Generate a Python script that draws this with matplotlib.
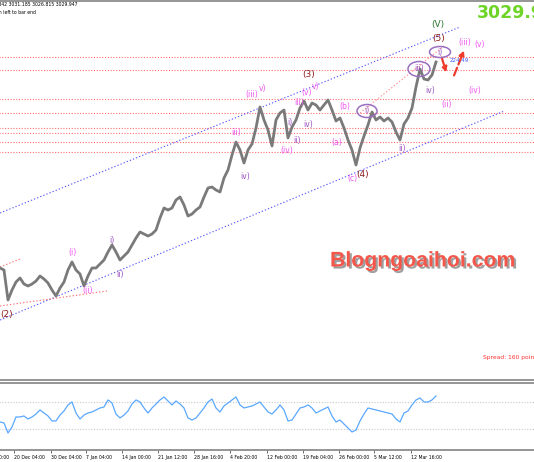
import numpy as np
import matplotlib
matplotlib.use('Agg')
import matplotlib.pyplot as plt
from matplotlib.patches import Ellipse
import matplotlib.patheffects as pe

# XAUUSD H4 - closes sampled about every 4 px of the original screenshot
price = [2618, 2614, 2554, 2574, 2590, 2598, 2586, 2582, 2586, 2592,
         2602, 2596, 2588, 2574, 2562, 2578, 2590, 2614, 2630, 2614,
         2606, 2582, 2602, 2618, 2618, 2626, 2634, 2650, 2664, 2650,
         2634, 2642, 2650, 2664, 2678, 2690, 2686, 2682, 2686, 2694,
         2718, 2738, 2734, 2738, 2754, 2760, 2744, 2722, 2726, 2734,
         2740, 2760, 2778, 2780, 2774, 2770, 2798, 2814, 2844, 2870,
         2854, 2828, 2854, 2866, 2898, 2940, 2914, 2894, 2862, 2914,
         2928, 2934, 2878, 2900, 2914, 2938, 2952, 2934, 2948, 2944,
         2934, 2944, 2954, 2934, 2912, 2918, 2898, 2874, 2854, 2824,
         2858, 2882, 2904, 2930, 2914, 2920, 2912, 2918, 2910, 2890,
         2874, 2906, 2918, 2938, 2980, 3016, 2996, 2994, 3004, 3030]

rsi = [40.4, 38.9, 24.1, 33.0, 47.8, 47.8, 49.3, 44.8, 47.8, 52.2,
       58.2, 53.7, 49.3, 41.9, 41.9, 50.7, 56.7, 65.6, 70.0, 53.7,
       44.8, 50.7, 53.7, 55.2, 58.2, 61.1, 62.6, 73.0, 68.5, 52.2,
       46.3, 50.7, 56.7, 67.0, 73.0, 70.0, 61.1, 53.7, 61.1, 67.0,
       73.0, 77.4, 71.5, 65.6, 71.5, 67.0, 61.1, 46.3, 43.3, 46.3,
       53.7, 61.1, 70.0, 74.4, 61.1, 55.2, 64.1, 68.5, 73.0, 77.4,
       65.6, 61.1, 62.6, 64.1, 67.0, 70.0, 62.6, 55.2, 52.2, 58.2,
       65.6, 58.2, 41.9, 43.3, 52.2, 61.1, 62.6, 65.6, 61.1, 53.7,
       56.7, 59.6, 62.6, 49.3, 40.4, 43.3, 37.4, 31.5, 25.6, 28.5,
       41.9, 52.2, 61.1, 59.6, 58.2, 56.7, 55.2, 53.7, 52.2, 44.8,
       40.4, 53.7, 56.7, 65.6, 73.0, 75.9, 70.0, 70.0, 73.0, 78.9]

tick_idx = [-5.5, 3.5, 12.75, 21.5, 30.5, 39.5, 48.5, 57.5, 66.75,
            75.75, 84.75, 93.5, 102.75]
tick_labels = ["12 Dec 20:00", "20 Dec 04:00", "30 Dec 04:00", "7 Jan 04:00",
               "14 Jan 00:00", "21 Jan 12:00", "28 Jan 16:00", "4 Feb 20:00",
               "12 Feb 00:00", "19 Feb 04:00", "26 Feb 00:00", "5 Mar 12:00",
               "12 Mar 16:00"]

# horizontal levels (red dotted)
levels = [3040, 3014, 2956, 2928, 2898, 2888, 2870, 2850]

# trend channel / helper lines: (idx list, price list)
upper_channel = ([0, 115], [2728, 3100])
lower_channel = ([0, 125.75], [2514, 2931])
red_short_1 = ([0, 5], [2620, 2636])
red_short_2 = ([0, 26.75], [2542, 2572])
pink_diag = ([90, 111], [2928, 3062])

# wave labels: text, idx, price, colour key
waves = [
    ("(2)", 1.75, 2526, "major"),
    ("(i)", 18, 2648, "mag"),
    ("(ii)", 22, 2572, "mag"),
    ("i)", 28, 2674, "pur"),
    ("ii)", 30, 2606, "pur"),
    ("iii)", 59, 2888, "mag"),
    ("iv)", 61.25, 2802, "pur"),
    ("(iii)", 63.0, 2966, "mag"),
    ("v)", 65.75, 2976, "mag"),
    ("(iv)", 71.75, 2854, "mag"),
    ("i)", 72.5, 2910, "pur"),
    ("ii)", 74.25, 2874, "pur"),
    ("iii)", 74.8, 2948, "mag"),
    ("(v)", 76.6, 2970, "mag"),
    ("v)", 79.0, 2982, "mag"),
    ("iv)", 77, 2904, "pur"),
    ("(3)", 77.25, 3004, "major"),
    ("(a)", 84.25, 2868, "mag"),
    ("(b)", 86.25, 2940, "mag"),
    ("(c)", 88, 2798, "mag"),
    ("(4)", 90.75, 2806, "major"),
    ("i)", 91.75, 2932, "pur"),
    ("ii)", 100.5, 2858, "pur"),
    ("iii)", 104.75, 3016, "pur"),
    ("iv)", 107.5, 2972, "pur"),
    ("(5)", 109.75, 3076, "major"),
    ("(V)", 109.5, 3104, "green"),
    ("i)", 110, 3050, "pur"),
    ("(iii)", 116.25, 3070, "mag"),
    ("(v)", 120, 3064, "mag"),
    ("(iv)", 118.75, 2974, "mag"),
    ("(ii)", 111.75, 2944, "mag"),
]
colors = {"major": "#8b1c1c", "mag": "#ee55ee", "pur": "#9a4fc0", "green": "#2d7a2d"}

# ellipses around some labels: idx, price, width, height
circles = [(91.75, 2932, 5.0, 26), (104.75, 3016, 5.5, 30), (110, 3050, 5.25, 22)]

W, H = 534, 462
fig = plt.figure(figsize=(W / 100, H / 100), dpi=100)


def box(x0, y0, x1, y1):
    return [x0 / W, 1 - y1 / H, (x1 - x0) / W, (y1 - y0) / H]


ax = fig.add_axes(box(-30, 1, 545, 380))
ax2 = fig.add_axes(box(-30, 383, 545, 450), sharex=ax)

x = np.arange(len(price))

for lv in levels:
    ax.axhline(lv, color='#ff6f6f', ls=(0, (1, 1.5)), lw=0.8, zorder=1)

dot = (0, (1.2, 1.8))
ax.plot(*upper_channel, color='#5a5aff', ls=dot, lw=0.8)
ax.plot(*lower_channel, color='#5a5aff', ls=dot, lw=0.8)
ax.plot(*red_short_1, color='#ff6f6f', ls=dot, lw=0.8)
ax.plot(*red_short_2, color='#ff6f6f', ls=dot, lw=0.8)
ax.plot(*pink_diag, color='#ff8a8a', ls=dot, lw=0.8)

ax.plot(x, price, color='#7a7a7a', lw=2.0, zorder=3)

for txt, xi, yi, c in waves:
    fs = 6.5 if c in ("major", "green") else 5.5
    ax.text(xi, yi, txt, color=colors[c], fontsize=fs, ha='center', va='center', zorder=5)

for cx, cy, w, h in circles:
    ax.add_patch(Ellipse((cx, cy), w, h, fill=False, ec='#9a6fc0', lw=1.1, zorder=4))

ax.text(114.75, 3034, "224.49", color='#3b5bff', fontsize=4, ha='center', va='center', zorder=5)

# forecast arrows
ax.annotate("", xy=(111.75, 3004), xytext=(110.25, 3044),
            arrowprops=dict(arrowstyle='-|>', color='#ee3b2b', lw=1.6, ls='--',
                            mutation_scale=7))
ax.annotate("", xy=(116.25, 3058), xytext=(113.25, 2998),
            arrowprops=dict(arrowstyle='-|>', color='#ee3b2b', lw=1.6, ls='--',
                            mutation_scale=7))

ax.set_xlim(-7.5, 136.25)
ax.set_ylim(2394, 3152)
ax.tick_params(left=False, bottom=False, labelleft=False, labelbottom=False)
for s in ('left', 'right'):
    ax.spines[s].set_visible(False)
for s in ('top', 'bottom'):
    ax.spines[s].set_color('#8c8c8c')
    ax.spines[s].set_linewidth(1.3)

# RSI window
for lv in (70, 30):
    ax2.axhline(lv, color='#c8c8c8', ls=(0, (1, 1.5)), lw=0.8)
ax2.plot(x, rsi, color='#5aa8ff', lw=0.9)
ax2.set_ylim(-1.1, 98.1)
ax2.set_yticks([])
ax2.set_xticks(tick_idx)
ax2.set_xticklabels(tick_labels, fontsize=3.3, ha='left')
ax2.tick_params(axis='x', length=2.5, width=0.6, color='#555555', pad=1)
for s in ('left', 'right'):
    ax2.spines[s].set_visible(False)
for s in ('top', 'bottom'):
    ax2.spines[s].set_color('#8c8c8c')
    ax2.spines[s].set_linewidth(1.3)


def fx(px):
    return px / W


def fy(py):
    return 1 - py / H


fig.text(fx(78), fy(5), "3028.842 3031.185 3026.815 3029.947", fontsize=3.3,
         ha='right', va='center')
fig.text(fx(36), fy(13), "1h 25m left to bar end", fontsize=3.3, ha='right', va='center')
fig.text(fx(477), fy(13), "3029.947", fontsize=12.5, fontweight='bold', color='#6fd428',
         ha='left', va='center')
fig.text(fx(330), fy(261), "Blogngoaihoi.com", fontsize=15.3, fontweight='bold',
         family='Liberation Sans', color='#f4574a', ha='left', va='center',
         path_effects=[pe.withSimplePatchShadow(offset=(1.5, -1.5),
                                                shadow_rgbFace='#777777', alpha=0.7)])
fig.text(fx(483), fy(358), "Spread: 160 points", fontsize=4.3, color='#ff3030',
         ha='left', va='center')

plt.savefig('out.png', dpi=100)
